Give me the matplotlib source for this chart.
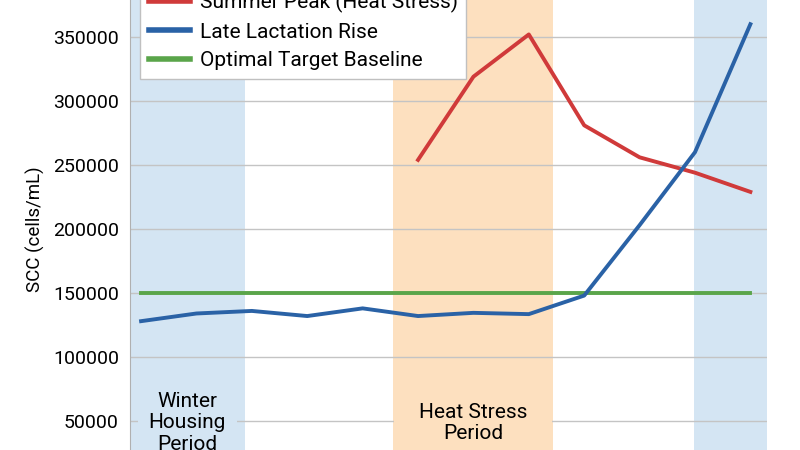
import matplotlib
matplotlib.use('Agg')
import matplotlib.pyplot as plt

plt.rcParams['font.family'] = ['Roboto', 'DejaVu Sans']

# Monthly SCC values (index 0 = first month)
months = list(range(12))
late_lactation = [128000, 134000, 136000, 132000, 138000, 132000, 134500, 133500, 148000, 203000, 260000, 360000]
summer_months = [5, 6, 7, 8, 9, 10, 11]
summer_peak = [254000, 319000, 352000, 281000, 256000, 244000, 229000]
baseline = [150000] * 12

# shaded periods (start, end) in month index
winter_span = (-0.2, 1.87)
heat_span = (4.54, 7.44)
late_span = (9.98, 11.3)

fig = plt.figure(figsize=(8, 4.5), dpi=100)
ax = fig.add_axes([0.1625, -0.0778, 0.79625, 1.1378])

ax.axvspan(*winter_span, color='#d4e5f3', zorder=0, lw=0)
ax.axvspan(*heat_span, color='#fde0bf', zorder=0, lw=0)
ax.axvspan(*late_span, color='#d4e5f3', zorder=0, lw=0)

ax.plot(summer_months, summer_peak, color='#d03a3a', lw=2.8, label='Summer Peak (Heat Stress)', zorder=3)
ax.plot(months, late_lactation, color='#2a62a6', lw=2.8, label='Late Lactation Rise', zorder=3)
ax.plot(months, baseline, color='#5aa54a', lw=2.8, label='Optimal Target Baseline', zorder=2)

ax.text(sum(winter_span) / 2, 48500, 'Winter\nHousing\nPeriod', ha='center', va='center',
        fontsize=15, linespacing=1.18,
        bbox=dict(facecolor='#d4e5f3', edgecolor='none', pad=8), zorder=1)
ax.text(sum(heat_span) / 2, 48500, 'Heat Stress\nPeriod', ha='center', va='center',
        fontsize=15, linespacing=1.18,
        bbox=dict(facecolor='#fde0bf', edgecolor='none', pad=18), zorder=1)

ax.set_xlim(-0.2, 11.3)
ax.set_ylim(0, 400000)
ax.set_yticks([50000, 100000, 150000, 200000, 250000, 300000, 350000])
ax.grid(axis='y', color='#c4c4c4', lw=1, zorder=0.5)
ax.set_axisbelow(True)
ax.tick_params(axis='y', length=0, pad=8, labelsize=14)
ax.set_xticks([])
ax.set_ylabel('SCC (cells/mL)', fontsize=13.5, labelpad=6)

for s in ['top', 'right', 'bottom']:
    ax.spines[s].set_visible(False)
ax.spines['left'].set_color('#b0b0b0')

leg = ax.legend(loc='upper left', fontsize=15, frameon=True, fancybox=False,
                edgecolor='#c0c0c0', framealpha=1, handlelength=2.0, handletextpad=0.45,
                labelspacing=0.47, borderaxespad=0.5)
for line in leg.get_lines():
    line.set_linewidth(4)

fig.savefig('out.png', dpi=100)
